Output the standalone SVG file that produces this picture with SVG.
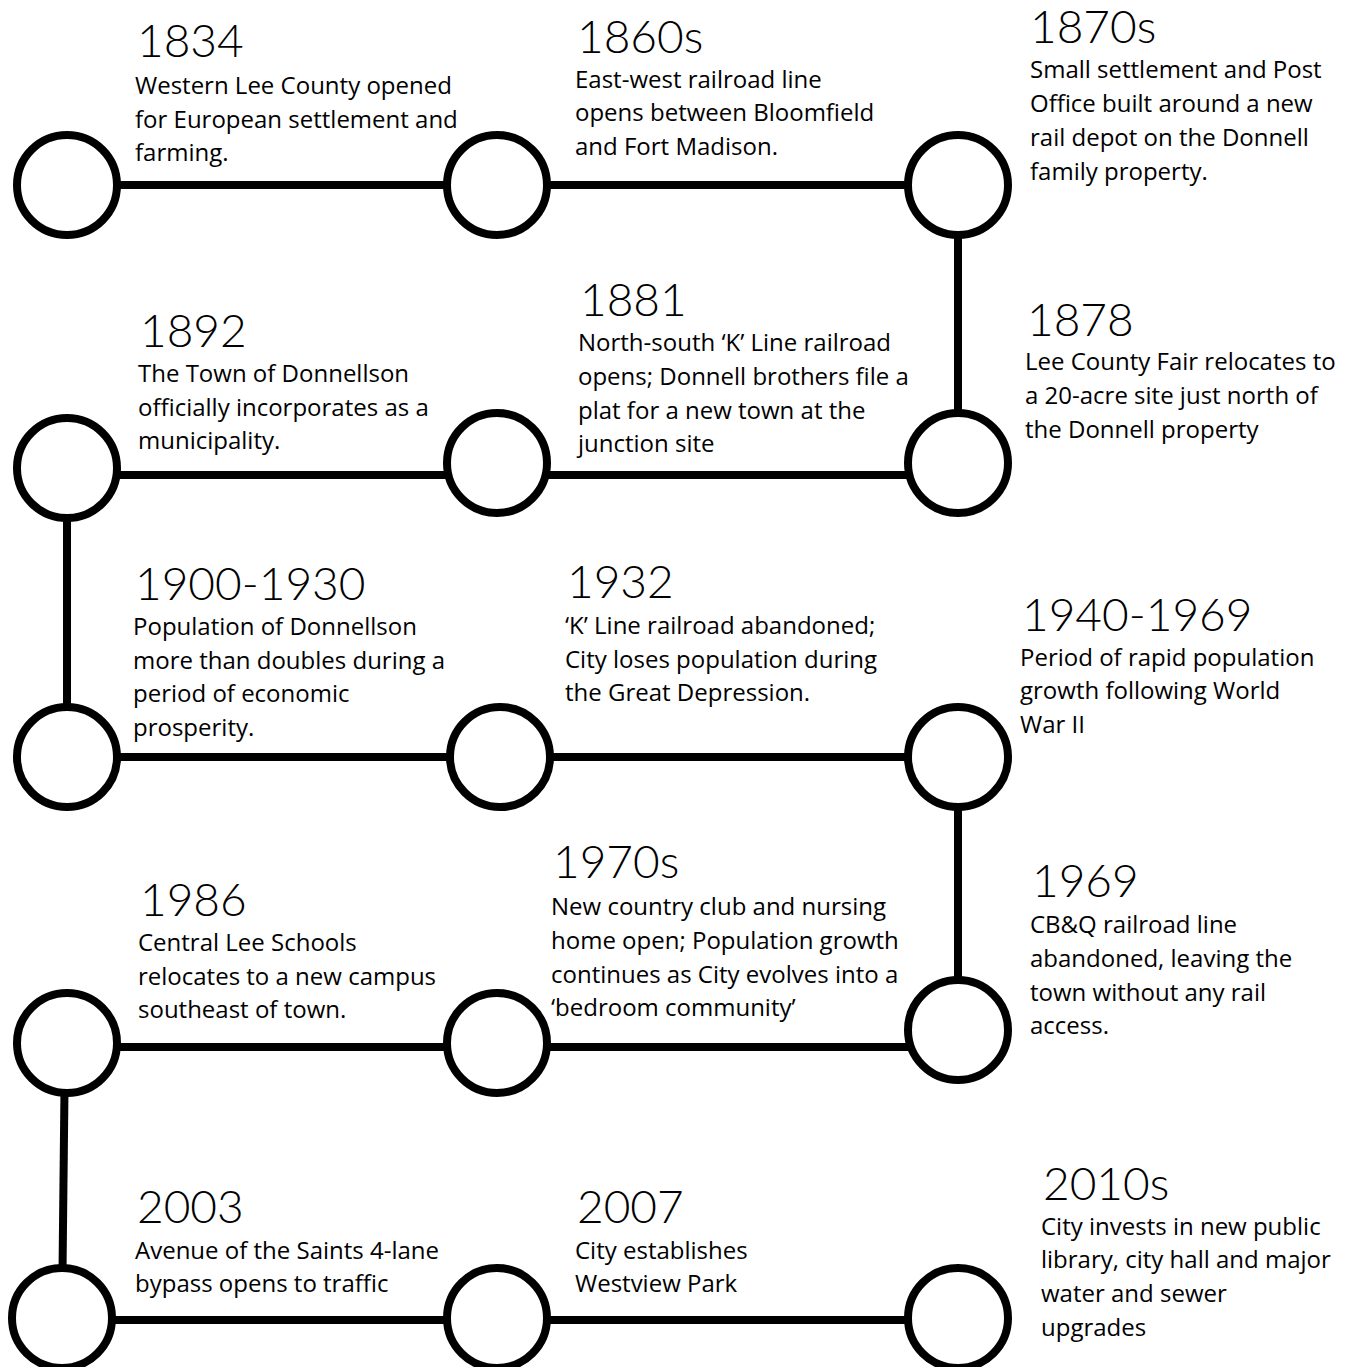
<svg xmlns="http://www.w3.org/2000/svg" width="1359" height="1367" viewBox="0 0 1359 1367">
<style>
.c{fill:#fff;stroke:#000;stroke-width:8}
.l{stroke:#000;stroke-width:8;fill:none}
.h{font-family:Lato,"Liberation Sans",sans-serif;font-weight:300;font-size:46px;fill:#000}
.b{font-family:"Open Sans","Noto Sans",sans-serif;font-size:24px;fill:#000}
</style>
<rect width="1359" height="1367" fill="#fff"/>
<g id="connectors">
<line class="l" x1="67" y1="185" x2="958" y2="185"/>
<line class="l" x1="958" y1="185" x2="958" y2="463"/>
<line class="l" x1="958" y1="475" x2="67" y2="475"/>
<line class="l" x1="67" y1="470" x2="67" y2="757"/>
<line class="l" x1="67" y1="757" x2="958" y2="757"/>
<line class="l" x1="958" y1="757" x2="958" y2="1030"/>
<line class="l" x1="958" y1="1047" x2="65" y2="1047"/>
<line class="l" x1="65" y1="1043" x2="62" y2="1318"/>
<line class="l" x1="62" y1="1320" x2="958" y2="1320"/>
</g>
<g id="n1834"><circle class="c" cx="67" cy="185" r="50"/>
<text class="h" x="137" y="57">1834</text>
<text class="b" x="135"><tspan x="135" y="94">Western Lee County opened</tspan><tspan x="135" y="128">for European settlement and</tspan><tspan x="135" y="161">farming.</tspan></text></g>
<g id="n1860s"><circle class="c" cx="497" cy="185" r="50"/>
<text class="h" x="577" y="53">1860s</text>
<text class="b"><tspan x="575" y="88">East-west railroad line</tspan><tspan x="575" y="121">opens between Bloomfield</tspan><tspan x="575" y="155">and Fort Madison.</tspan></text></g>
<g id="n1870s"><circle class="c" cx="958" cy="185" r="50"/>
<text class="h" x="1030" y="43">1870s</text>
<text class="b"><tspan x="1030" y="78">Small settlement and Post</tspan><tspan x="1030" y="112">Office built around a new</tspan><tspan x="1030" y="146">rail depot on the Donnell</tspan><tspan x="1030" y="180">family property.</tspan></text></g>
<g id="n1878"><circle class="c" cx="958" cy="463" r="50"/>
<text class="h" x="1027" y="336">1878</text>
<text class="b"><tspan x="1025" y="370">Lee County Fair relocates to</tspan><tspan x="1025" y="404">a 20-acre site just north of</tspan><tspan x="1025" y="438">the Donnell property</tspan></text></g>
<g id="n1881"><circle class="c" cx="497" cy="463" r="50"/>
<text class="h" x="580" y="316">1881</text>
<text class="b"><tspan x="578" y="351">North-south ‘K’ Line railroad</tspan><tspan x="578" y="385">opens; Donnell brothers file a</tspan><tspan x="578" y="419">plat for a new town at the</tspan><tspan x="578" y="452">junction site</tspan></text></g>
<g id="n1892"><circle class="c" cx="67" cy="468" r="50"/>
<text class="h" x="140" y="347">1892</text>
<text class="b"><tspan x="138" y="382">The Town of Donnellson</tspan><tspan x="138" y="416">officially incorporates as a</tspan><tspan x="138" y="449">municipality.</tspan></text></g>
<g id="n1900"><circle class="c" cx="67" cy="757" r="50"/>
<text class="h" x="135" y="600">1900-1930</text>
<text class="b"><tspan x="133" y="635">Population of Donnellson</tspan><tspan x="133" y="669">more than doubles during a</tspan><tspan x="133" y="702">period of economic</tspan><tspan x="133" y="736">prosperity.</tspan></text></g>
<g id="n1932"><circle class="c" cx="500" cy="757" r="50"/>
<text class="h" x="567" y="598">1932</text>
<text class="b"><tspan x="565" y="634">‘K’ Line railroad abandoned;</tspan><tspan x="565" y="668">City loses population during</tspan><tspan x="565" y="701">the Great Depression.</tspan></text></g>
<g id="n1940"><circle class="c" cx="958" cy="757" r="50"/>
<text class="h" x="1022" y="631">1940-1969</text>
<text class="b"><tspan x="1020" y="666">Period of rapid population</tspan><tspan x="1020" y="699">growth following World</tspan><tspan x="1020" y="733">War II</tspan></text></g>
<g id="n1969"><circle class="c" cx="958" cy="1030" r="50"/>
<text class="h" x="1032" y="897">1969</text>
<text class="b"><tspan x="1030" y="933">CB&amp;Q railroad line</tspan><tspan x="1030" y="967">abandoned, leaving the</tspan><tspan x="1030" y="1001">town without any rail</tspan><tspan x="1030" y="1034">access.</tspan></text></g>
<g id="n1970s"><circle class="c" cx="497" cy="1043" r="50"/>
<text class="h" x="553" y="878">1970s</text>
<text class="b"><tspan x="551" y="915">New country club and nursing</tspan><tspan x="551" y="949">home open; Population growth</tspan><tspan x="551" y="983">continues as City evolves into a</tspan><tspan x="551" y="1016">‘bedroom community’</tspan></text></g>
<g id="n1986"><circle class="c" cx="67" cy="1043" r="50"/>
<text class="h" x="140" y="916">1986</text>
<text class="b"><tspan x="138" y="951">Central Lee Schools</tspan><tspan x="138" y="985">relocates to a new campus</tspan><tspan x="138" y="1018">southeast of town.</tspan></text></g>
<g id="n2003"><circle class="c" cx="62" cy="1318" r="50"/>
<text class="h" x="137" y="1223">2003</text>
<text class="b"><tspan x="135" y="1259">Avenue of the Saints 4-lane</tspan><tspan x="135" y="1292">bypass opens to traffic</tspan></text></g>
<g id="n2007"><circle class="c" cx="497" cy="1318" r="50"/>
<text class="h" x="577" y="1223">2007</text>
<text class="b"><tspan x="575" y="1259">City establishes</tspan><tspan x="575" y="1292">Westview Park</tspan></text></g>
<g id="n2010s"><circle class="c" cx="958" cy="1318" r="50"/>
<text class="h" x="1043" y="1200">2010s</text>
<text class="b"><tspan x="1041" y="1235">City invests in new public</tspan><tspan x="1041" y="1268">library, city hall and major</tspan><tspan x="1041" y="1302">water and sewer</tspan><tspan x="1041" y="1336">upgrades</tspan></text></g>
</svg>
